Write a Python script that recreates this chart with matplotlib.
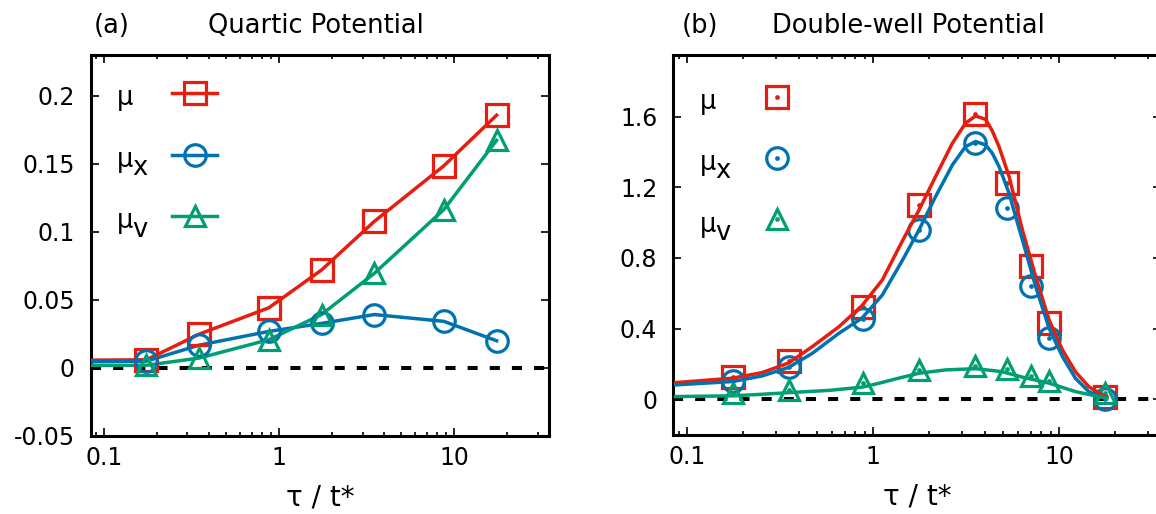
import numpy as np
import matplotlib
matplotlib.use('Agg')
import matplotlib.pyplot as plt
from matplotlib.ticker import LogLocator, FuncFormatter, NullFormatter

plt.rcParams['font.family'] = ['DejaVu Sans']
plt.rcParams['axes.unicode_minus'] = False

RED = '#e51e10'
BLUE = '#0072b2'
GREEN = '#009e73'

# (a) quartic potential -- first entry lies left of the axis (line only, no marker)
tau_a = [0.0175, 0.175, 0.35, 0.875, 1.75, 3.5, 8.75, 17.5]
mu_a = [0.0049, 0.0057, 0.0246, 0.044, 0.0718, 0.1075, 0.1485, 0.1857]
mux_a = [0.0037, 0.0047, 0.0165, 0.0266, 0.0325, 0.039, 0.034, 0.0197]
muv_a = [0.0013, 0.0017, 0.007, 0.0205, 0.039, 0.0693, 0.1163, 0.1672]

# (b) double-well potential, data points
tau_b = [0.175, 0.35, 0.875, 1.75, 3.5, 5.25, 7.0, 8.75, 17.5]
mu_b = [0.125, 0.215, 0.525, 1.10, 1.615, 1.224, 0.755, 0.43, 0.015]
mux_b = [0.105, 0.185, 0.455, 0.959, 1.45, 1.082, 0.642, 0.346, 0.0]
muv_b = [0.035, 0.053, 0.09, 0.164, 0.187, 0.17, 0.132, 0.105, 0.034]

# (b) smooth curves
tau_fit = [0.0865, 0.175, 0.253, 0.35, 0.47, 0.654, 0.868, 1.117, 1.43, 1.76, 2.16, 2.66,
           3.13, 3.55, 4.02, 4.36, 4.74, 5.37, 5.8, 6.33, 7.46, 8.81, 10.4, 12.2, 14.4, 17.0, 18.0]
mu_fit = [0.094, 0.119, 0.151, 0.205, 0.298, 0.411, 0.53, 0.675, 0.895, 1.072, 1.261, 1.45,
          1.564, 1.605, 1.585, 1.52, 1.431, 1.261, 1.12, 0.959, 0.695, 0.449, 0.279, 0.156,
          0.071, 0.024, 0.015]
mux_fit = [0.081, 0.100, 0.132, 0.18, 0.26, 0.374, 0.459, 0.59, 0.785, 0.959, 1.148, 1.327,
           1.431, 1.46, 1.44, 1.394, 1.318, 1.167, 1.04, 0.903, 0.638, 0.402, 0.241, 0.119,
           0.043, 0.011, 0.004]
tau_fit_v = [0.0865, 0.175, 0.253, 0.35, 0.58, 0.868, 1.07, 1.32, 1.76, 2.45, 3.55, 4.92,
             6.33, 8.81, 12.2, 17.0, 18.0]
muv_fit = [0.015, 0.019, 0.028, 0.037, 0.05, 0.068, 0.09, 0.115, 0.147, 0.166, 0.173, 0.156,
           0.125, 0.091, 0.043, 0.011, 0.006]

labels = ['μ', 'μ', 'μ']
subs = ['x', 'v']

W, H = 1156, 514
fig = plt.figure(figsize=(W / 100, H / 100), dpi=100)
ax1 = fig.add_axes([90.7 / W, (H - 435.5) / H, 458.6 / W, 380.5 / H])
ax2 = fig.add_axes([673.3 / W, (H - 434.5) / H, 487.2 / W, 379.5 / H])


def style(ax, h_px):
    ax.set_xscale('log')
    ax.set_xlim(0.084, 35)
    ax.xaxis.set_major_locator(LogLocator(base=10))
    ax.xaxis.set_minor_locator(LogLocator(base=10, subs=np.arange(2, 10)))
    ax.xaxis.set_major_formatter(FuncFormatter(lambda v, p: f'{v:g}'))
    ax.xaxis.set_minor_formatter(NullFormatter())
    ax.yaxis.set_major_formatter(FuncFormatter(lambda v, p: f'{v:g}'))
    ax.tick_params(which='both', direction='in', top=True, right=True, width=1.2, labelsize=17)
    ax.tick_params(which='major', length=6)
    ax.tick_params(which='minor', length=3)
    ax.tick_params(axis='y', pad=11.5)
    ax.tick_params(axis='x', pad=7.5)
    for s in ax.spines.values():
        s.set_linewidth(2.2)
    ax.axhline(0, color='black', lw=2.9, ls=(0, (2.5, 3)), dash_capstyle='butt', zorder=1.5)
    ax.set_xlabel('τ / t*', fontsize=20, va='baseline')
    ax.xaxis.set_label_coords(0.5, -70 / h_px)


def add_subs(ax, leg):
    for t, s in zip(leg.get_texts()[1:], subs):
        ax.annotate(s, xy=(1, 0), xycoords=t, xytext=(-1.0, -6.0), textcoords='offset points',
                    fontsize=18.5, ha='left', va='bottom', zorder=6)


legend_kw = dict(loc='upper left', borderaxespad=0, borderpad=0, frameon=False, fontsize=18.5,
                 handlelength=1.75, handletextpad=1.5, handleheight=1.5, labelspacing=1.17,
                 markerfirst=False, numpoints=1)

# panel (a)
style(ax1, 380.5)
ax1.set_ylim(-0.05, 0.23)
ax1.set_yticks([-0.05, 0, 0.05, 0.1, 0.15, 0.2])
handles = []
for vals, c, m, ms in [(mu_a, RED, 's', 15.5), (mux_a, BLUE, 'o', 15.5), (muv_a, GREEN, '^', 14.5)]:
    ln, = ax1.plot(tau_a, vals, '-', color=c, lw=2.5, zorder=3)
    pt, = ax1.plot(tau_a[1:], vals[1:], ls='none', marker=m, ms=ms, mfc='none', mec=c, mew=2.3, zorder=4)
    handles.append((ln, pt))
leg1 = ax1.legend(handles, labels, bbox_to_anchor=(0.058, 0.931), **legend_kw)
add_subs(ax1, leg1)

# panel (b)
style(ax2, 379.5)
ax2.set_ylim(-0.2, 1.95)
ax2.set_yticks([0, 0.4, 0.8, 1.2, 1.6])
handles = []
for tv, vals, tf, fit, c, m, ms in [(tau_b, mu_b, tau_fit, mu_fit, RED, 's', 15.5),
                                   (tau_b, mux_b, tau_fit, mux_fit, BLUE, 'o', 15.5),
                                   (tau_b, muv_b, tau_fit_v, muv_fit, GREEN, '^', 14.5)]:
    pt, = ax2.plot(tv, vals, ls='none', marker=m, ms=ms, mfc='none', mec=c, mew=2.3, zorder=3)
    dot, = ax2.plot(tv, vals, ls='none', marker='o', ms=2.4, color=c, zorder=3)
    ax2.plot(tf, fit, '-', color=c, lw=2.5, zorder=4)
    handles.append((pt, dot))
leg2 = ax2.legend(handles, labels, bbox_to_anchor=(0.055, 0.922), **legend_kw)
add_subs(ax2, leg2)

tkw = dict(fontsize=18.5, va='baseline', ha='left')
fig.text(93.3 / W, 1 - 33.3 / H, '(a)', **tkw)
fig.text(208.3 / W, 1 - 33.3 / H, 'Quartic Potential', **tkw)
fig.text(681.7 / W, 1 - 33.3 / H, '(b)', **tkw)
fig.text(771.7 / W, 1 - 33.3 / H, 'Double-well Potential', **tkw)

fig.savefig('out.png', dpi=100)
